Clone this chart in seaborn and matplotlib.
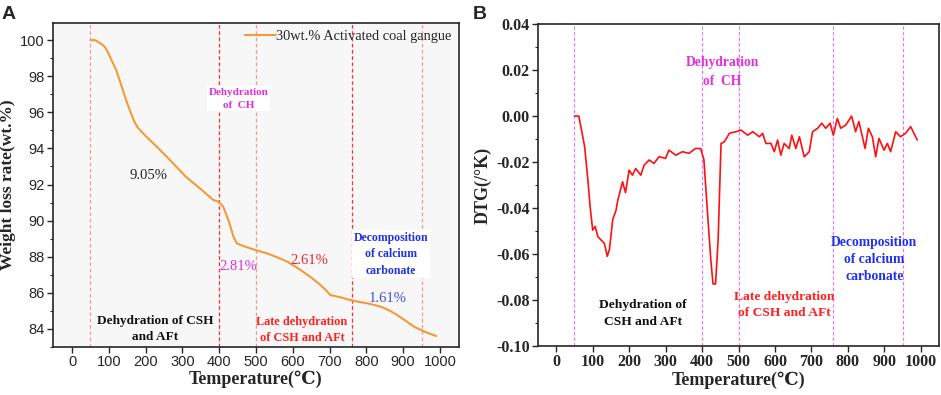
# %% ---- Requirements and constants
import numpy as np
import pandas as pd
import seaborn as sns
import matplotlib.pyplot as plt
from matplotlib.ticker import MultipleLocator

# TG curve (panel A)
tg_temp = [50, 62, 75, 88, 97, 108, 120, 138, 150, 160, 170, 180, 190, 202, 230, 257,
           285, 311, 350, 384, 398, 411, 425, 439, 448, 465, 484, 510, 530, 560,
           585, 621, 650, 675, 690, 702, 730, 757, 780, 803, 840, 860, 876, 900,
           930, 958, 975, 990]
tg_weight = [100.0, 100.0, 99.85, 99.65, 99.35, 98.85, 98.34, 97.23, 96.5, 95.95, 95.45,
             95.12, 94.9, 94.65, 94.1, 93.55, 92.95, 92.4, 91.75, 91.14, 91.05, 90.77,
             90.03, 89.1, 88.74, 88.6, 88.47, 88.3, 88.19, 87.95, 87.73, 87.27,
             86.85, 86.44, 86.15, 85.88, 85.75, 85.6, 85.5, 85.42, 85.23, 85.05,
             84.87, 84.55, 84.12, 83.85, 83.72, 83.61]

# DTG curve (panel B)
dtg_temp = [50, 62, 78, 87, 93, 100, 107, 114, 123, 132, 140, 146, 155, 164, 169,
            182, 190, 200, 209, 218, 232, 241, 255, 268, 282, 300, 309, 328, 346,
            364, 382, 396, 405, 415, 424, 430, 437, 444, 452, 461, 475, 493, 507,
            525, 539, 557, 566, 575, 589, 598, 607, 616, 625, 639, 646, 657, 667,
            680, 694, 703, 717, 728, 739, 751, 760, 771, 780, 794, 810, 821, 830,
            847, 856, 867, 876, 885, 899, 908, 917, 931, 944, 958, 972, 990]
dtg_value = [0.0, 0.0, -0.0133, -0.028, -0.0394, -0.0496, -0.048, -0.0524, -0.0539,
             -0.0553, -0.061, -0.058, -0.045, -0.041, -0.0365, -0.0286, -0.0333,
             -0.0235, -0.0257, -0.0228, -0.0257, -0.0213, -0.0191, -0.0206, -0.0177,
             -0.0184, -0.0148, -0.017, -0.0155, -0.0162, -0.0141, -0.0141, -0.019,
             -0.0423, -0.0626, -0.073, -0.073, -0.0539, -0.0119, -0.0112, -0.0075,
             -0.0068, -0.0061, -0.0083, -0.0068, -0.009, -0.0075, -0.0119, -0.0119,
             -0.0155, -0.0104, -0.017, -0.0119, -0.0141, -0.0083, -0.0141, -0.009,
             -0.0177, -0.0155, -0.0068, -0.0053, -0.0031, -0.0053, -0.0031, -0.0083,
             -0.001, -0.0053, -0.0039, 0.0, -0.0068, -0.0024, -0.0141, -0.0053,
             -0.009, -0.0177, -0.0097, -0.0148, -0.0119, -0.0155, -0.0068, -0.009,
             -0.0075, -0.0046, -0.0104]

stage_bounds = [50, 400, 500, 760, 950]
x_ticks = list(range(0, 1001, 100))

serif = ['Liberation Serif', 'DejaVu Serif']
sans = ['Liberation Sans', 'DejaVu Sans']
orange = '#F39A3A'

# %% ---- Plot
sns.set_style('ticks')
plt.rcParams['font.family'] = serif
plt.rcParams['xtick.direction'] = 'out'
plt.rcParams['ytick.direction'] = 'out'

fig = plt.figure(figsize=(9.41, 3.95), dpi=100)
ax1 = fig.add_axes([0.0563, 0.1215, 0.4315, 0.8203])
ax2 = fig.add_axes([0.5717, 0.124, 0.4263, 0.815])

# ---- panel A
ax = ax1
ax.set_facecolor('#f7f7f7')
for xb in stage_bounds:
    col = '#ff3030' if xb in (400, 760) else '#f59a9a'
    ax.axvline(xb, color=col, ls=(0, (3, 2)), lw=0.9, zorder=1)
df_tg = pd.DataFrame({'T': tg_temp, 'W': tg_weight})
sns.lineplot(data=df_tg, x='T', y='W', ax=ax, color=orange, lw=1.5,
             label='30wt.% Activated coal gangue', zorder=3)
ax.set_xlim(-52, 1052)
ax.set_ylim(83.0, 100.95)
ax.set_xticks(x_ticks)
ax.set_yticks(range(84, 101, 2))
ax.yaxis.set_minor_locator(MultipleLocator(1))
for lab in ax.get_xticklabels() + ax.get_yticklabels():
    lab.set_family(sans)
    lab.set_fontsize(10.5)
ax.set_xlabel('Temperature(℃)', fontsize=13, fontweight='bold', labelpad=1)
ax.set_ylabel('Weight loss rate(wt.%)', fontsize=12.5, fontweight='bold', labelpad=3)
ax.legend(loc='upper right', frameon=False, fontsize=10.4, handlelength=2.2,
          borderaxespad=0.1, handletextpad=0.0)
for sp in ax.spines.values():
    sp.set_linewidth(1.2)
ax.tick_params(width=1.0, length=4, pad=2)
ax.tick_params(which='minor', width=0.8, length=2.5)

ax.text(452, 96.75, 'Dehydration\nof  CH', color='#e030e0', fontsize=8, fontweight='bold',
        ha='center', va='center', linespacing=1.6,
        bbox=dict(facecolor='white', edgecolor='none', pad=1))
ax.text(207, 92.5, '9.05%', color='#222222', fontsize=10.5, ha='center', va='center')
ax.text(452, 87.45, '2.81%', color='#e030e0', fontsize=10.5, ha='center', va='center')
ax.text(644, 87.8, '2.61%', color='#e8282e', fontsize=10.5, ha='center', va='center')
ax.text(867, 88.13, 'Decomposition\nof calcium\ncarbonate', color='#2030e8', fontsize=8.5,
        fontweight='bold', ha='center', va='center', linespacing=1.5,
        bbox=dict(facecolor='white', edgecolor='none', pad=1))
ax.text(858, 85.7, '1.61%', color='#4050e0', fontsize=10.5, ha='center', va='center')
ax.text(225, 84.0, 'Dehydration of CSH\nand AFt', color='#111111', fontsize=9.5,
        fontweight='bold', ha='center', va='center', linespacing=1.5)
ax.text(625, 83.94, 'Late dehydration\nof CSH and AFt', color='#ff2020', fontsize=8.8,
        fontweight='bold', ha='center', va='center', linespacing=1.5)

# ---- panel B
ax = ax2
for xb in stage_bounds:
    ax.axvline(xb, color='#ff66ff', ls=(0, (3, 2)), lw=0.8, zorder=1)
df_dtg = pd.DataFrame({'T': dtg_temp, 'D': dtg_value})
sns.lineplot(data=df_dtg, x='T', y='D', ax=ax, color='#ff1010', lw=1.2, zorder=3)
ax.set_xlim(-50, 1050)
ax.set_ylim(-0.10, 0.04)
ax.set_xticks(x_ticks)
ax.set_yticks(np.arange(-0.10, 0.041, 0.02))
ax.set_yticklabels(['-0.10', '-0.08', '-0.06', '-0.04', '-0.02', '0.00', '0.02', '0.04'])
ax.yaxis.set_minor_locator(MultipleLocator(0.01))
for lab in ax.get_xticklabels() + ax.get_yticklabels():
    lab.set_fontweight('bold')
    lab.set_fontsize(11.5)
ax.set_xlabel('Temperature(℃)', fontsize=13, fontweight='bold', labelpad=1)
ax.set_ylabel('DTG(/°K)', fontsize=13, fontweight='bold', labelpad=3)
for sp in ax.spines.values():
    sp.set_linewidth(1.2)
ax.tick_params(width=1.0, length=4, pad=2)
ax.tick_params(which='minor', width=0.8, length=2.5)

ax.text(455, 0.0193, 'Dehydration\nof  CH', color='#e030e0', fontsize=9.8, fontweight='bold',
        ha='center', va='center', linespacing=1.6)
ax.text(237, -0.0858, 'Dehydration of\nCSH and AFt', color='#111111', fontsize=9.7,
        fontweight='bold', ha='center', va='center', linespacing=1.5)
ax.text(625, -0.0822, 'Late dehydration\nof CSH and AFt', color='#ff2020', fontsize=9.7,
        fontweight='bold', ha='center', va='center', linespacing=1.5)
ax.text(872, -0.0623, 'Decomposition\nof calcium\ncarbonate', color='#2030f0', fontsize=9.8,
        fontweight='bold', ha='center', va='center', linespacing=1.4)

fig.text(0.002, 0.985, 'A', fontsize=14, fontweight='bold', family=sans, va='top')
fig.text(0.502, 0.985, 'B', fontsize=14, fontweight='bold', family=sans, va='top')

fig.savefig('out.png', dpi=100)
